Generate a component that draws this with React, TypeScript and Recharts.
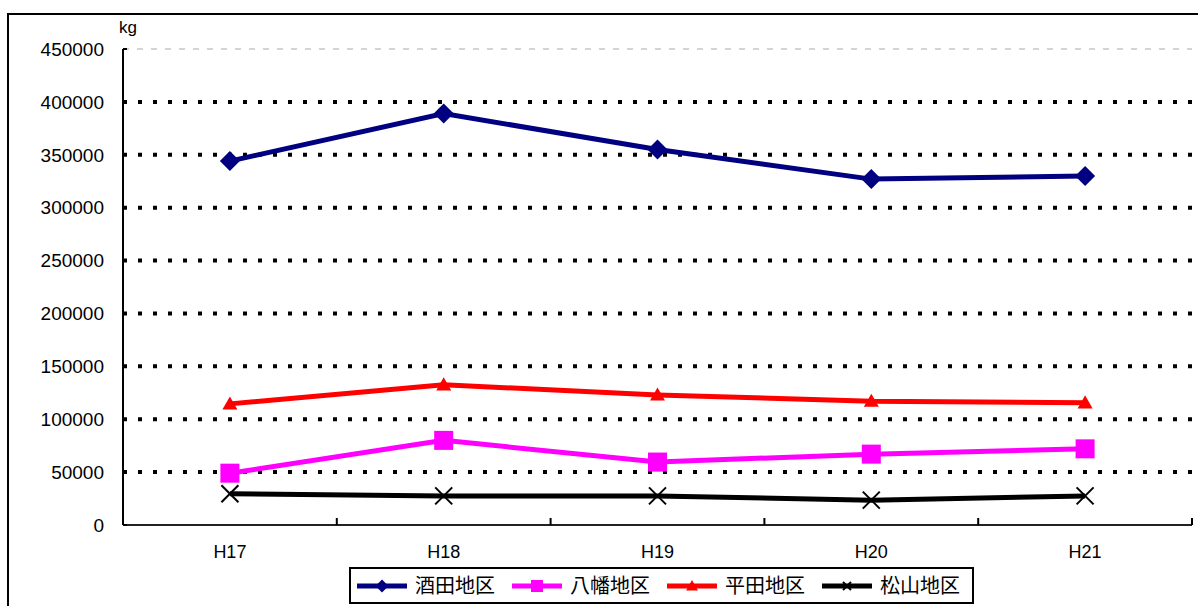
import React from 'react';
import {
  CartesianGrid,
  Legend,
  Line,
  LineChart,
  ReferenceLine,
  XAxis,
  YAxis,
} from 'recharts';

const YEARS = ['H17', 'H18', 'H19', 'H20', 'H21'];
const SAKATA = [344000, 389000, 355000, 327000, 330000];
const YAWATA = [49000, 80000, 59500, 67000, 72000];
const HIRATA = [114500, 132500, 123000, 117000, 115500];
const MATSUYAMA = [29500, 27500, 27500, 23500, 27500];

const Y_TICKS = [0, 50000, 100000, 150000, 200000, 250000, 300000, 350000, 400000, 450000];
const GRID_VALUES = [50000, 100000, 150000, 200000, 250000, 300000, 350000, 400000];

const data = YEARS.map((year, i) => ({
  year,
  sakata: SAKATA[i],
  yawata: YAWATA[i],
  hirata: HIRATA[i],
  matsuyama: MATSUYAMA[i],
}));

const FONT = '"Liberation Sans", "Noto Sans CJK JP", sans-serif';
const X_TICK_MARGIN = 20;

type Shape = 'diamond' | 'square' | 'triangle' | 'cross';

const SERIES: { key: string; name: string; color: string; shape: Shape }[] = [
  { key: 'sakata', name: '酒田地区', color: '#000080', shape: 'diamond' },
  { key: 'yawata', name: '八幡地区', color: '#FF00FF', shape: 'square' },
  { key: 'hirata', name: '平田地区', color: '#FF0000', shape: 'triangle' },
  { key: 'matsuyama', name: '松山地区', color: '#000000', shape: 'cross' },
];

function Marker({ shape, cx, cy, color, size }: { shape: Shape; cx: number; cy: number; color: string; size: number }) {
  const h = size / 2;
  if (shape === 'diamond') {
    return <polygon points={`${cx},${cy - h} ${cx + h},${cy} ${cx},${cy + h} ${cx - h},${cy}`} fill={color} />;
  }
  if (shape === 'square') {
    return <rect x={cx - h} y={cy - h} width={size} height={size} fill={color} />;
  }
  if (shape === 'triangle') {
    return <polygon points={`${cx},${cy - h} ${cx + h},${cy + h * 0.75} ${cx - h},${cy + h * 0.75}`} fill={color} />;
  }
  return (
    <g stroke={color} strokeWidth={2}>
      <line x1={cx - h} y1={cy - h} x2={cx + h} y2={cy + h} />
      <line x1={cx - h} y1={cy + h} x2={cx + h} y2={cy - h} />
    </g>
  );
}

const DOT_SIZE: Record<Shape, number> = { diamond: 20, square: 19, triangle: 15, cross: 17 };
const ICON_SIZE: Record<Shape, number> = { diamond: 13, square: 12, triangle: 12, cross: 8 };

// category label + the Excel-style tick mark sitting on the band boundary
function YearTick(props: any) {
  const { x, y, payload } = props;
  const axisY = y - X_TICK_MARGIN;
  const edge = x + (payload.offset || 0);
  return (
    <g>
      <line x1={edge} y1={axisY} x2={edge} y2={axisY - 7} stroke="#000" strokeWidth={2} />
      <text x={x} y={y} dy="0.71em" textAnchor="middle" fill="#000" fontSize={18} fontFamily={FONT}>
        {payload.value}
      </text>
    </g>
  );
}

function LegendBox() {
  return (
    <div style={{ display: 'flex', alignItems: 'center', height: '100%', paddingLeft: 6, gap: 17, fontFamily: FONT }}>
      {SERIES.map((s) => (
        <div key={s.key} style={{ display: 'flex', alignItems: 'center', gap: 8 }}>
          <svg width={50} height={20}>
            <line x1={0} y1={10} x2={50} y2={10} stroke={s.color} strokeWidth={5} />
            <Marker shape={s.shape} cx={25} cy={10} color={s.color} size={ICON_SIZE[s.shape]} />
          </svg>
          <span style={{ fontSize: 20, color: '#000', lineHeight: '20px' }}>{s.name}</span>
        </div>
      ))}
    </div>
  );
}

export default function App() {
  return (
    <div
      style={{
        position: 'absolute',
        left: 7,
        top: 13,
        width: 1200,
        height: 600,
        border: '2px solid #000',
        background: '#fff',
      }}
    >
      <LineChart
        width={1200}
        height={600}
        data={data}
        margin={{ top: 34, right: 17, bottom: 60, left: 0 }}
        style={{ fontFamily: FONT }}
      >
        <CartesianGrid
          horizontal
          vertical={false}
          horizontalValues={GRID_VALUES}
          stroke="#000"
          strokeWidth={4}
          strokeDasharray="4 11"
        />
        <ReferenceLine y={450000} stroke="#aaa" strokeWidth={1} strokeDasharray="6 8" />
        <XAxis
          dataKey="year"
          scale="band"
          height={30}
          tickSize={0}
          tickMargin={X_TICK_MARGIN}
          tickLine={false}
          axisLine={{ stroke: '#222', strokeWidth: 2 }}
          tick={<YearTick />}
          interval={0}
        />
        <YAxis
          width={114}
          domain={[0, 450000]}
          ticks={Y_TICKS}
          interval={0}
          tickSize={-4}
          tickMargin={23}
          tickLine={{ stroke: '#000', strokeWidth: 2 }}
          axisLine={{ stroke: '#000', strokeWidth: 2 }}
          tick={{ fill: '#000', fontSize: 19 }}
          label={{ value: 'kg', position: 'top', offset: 16, dx: 62, fill: '#000', fontSize: 17 }}
        />
        {SERIES.map((s) => (
          <Line
            key={s.key}
            dataKey={s.key}
            name={s.name}
            stroke={s.color}
            strokeWidth={5}
            isAnimationActive={false}
            dot={(p: any) => (
              <Marker
                key={`${s.key}-${p.index}`}
                shape={s.shape}
                cx={p.cx}
                cy={p.cy}
                color={s.color}
                size={DOT_SIZE[s.shape]}
              />
            )}
            activeDot={false}
          />
        ))}
        <Legend
          layout="horizontal"
          verticalAlign="middle"
          align="center"
          content={() => <LegendBox />}
          wrapperStyle={{
            position: 'absolute',
            top: 552,
            left: 340,
            width: 625,
            height: 37,
            border: '2px solid #000',
            boxSizing: 'border-box',
            background: '#fff',
          }}
        />
      </LineChart>
    </div>
  );
}
